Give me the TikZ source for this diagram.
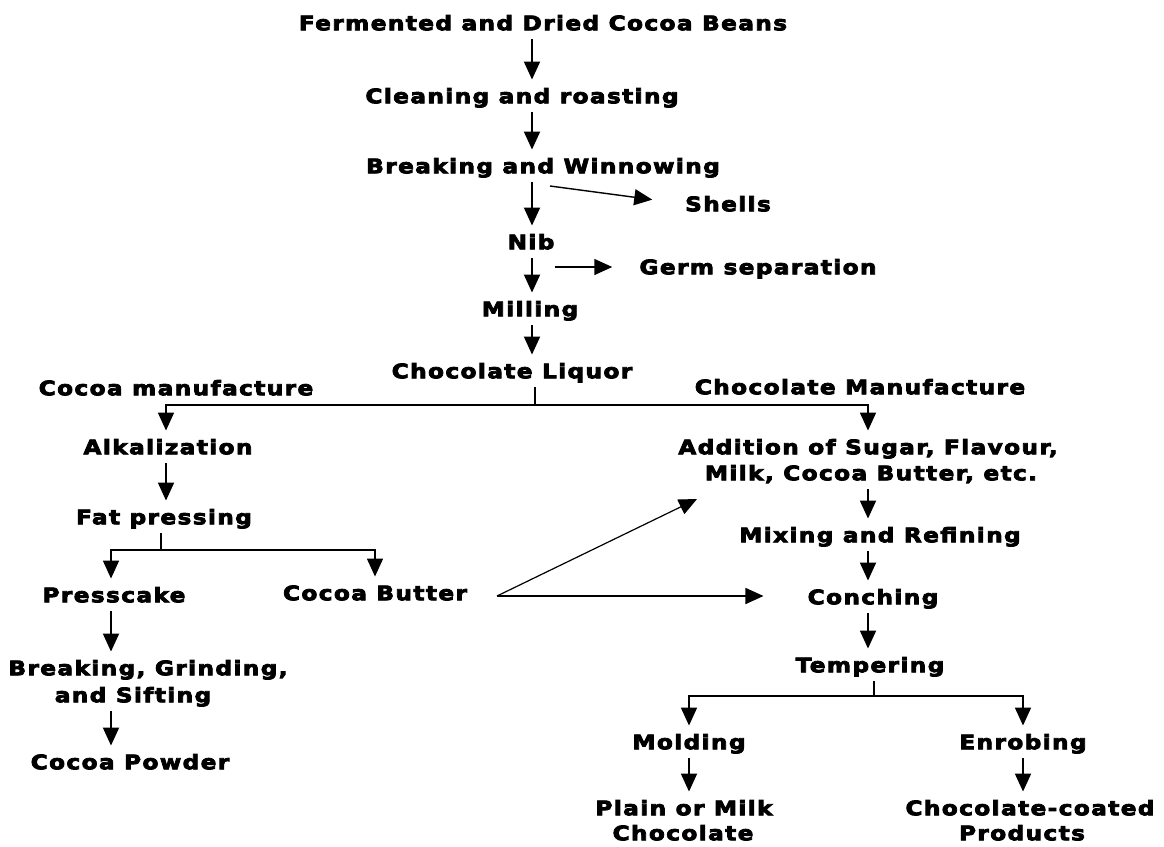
\documentclass[tikz,border=0pt]{standalone}
\usepackage{fontspec}
\newfontfamily\flowfont{DejaVu Sans Bold}[FakeStretch=1.16,LetterSpace=7,FakeBold=4]
\usetikzlibrary{arrows.meta}
\begin{document}
\begin{tikzpicture}[x=1pt,y=-1pt,
  lbl/.style={font=\flowfont\fontsize{20}{27}\selectfont, inner sep=0pt, text height=14.5pt, text depth=0pt},
  arr/.style={line width=1.9pt, -{Triangle[width=16pt,length=18pt]}, shorten <=9pt, shorten >=9pt},
  ln/.style={line width=1.7pt}]
\useasboundingbox[fill=white] (0,0) rectangle (1164,846);
% nodes
\node[lbl] (ferm) at (543,23) {Fermented and Dried Cocoa Beans};
\node[lbl] (clean) at (522,96) {Cleaning and roasting};
\node[lbl] (brk) at (543,166) {Breaking and Winnowing};
\node[lbl] (shells) at (728,204) {Shells};
\node[lbl] (nib) at (531,242) {Nib};
\node[lbl] (germ) at (758,267) {Germ separation};
\node[lbl] (mill) at (530,309) {Milling};
\node[lbl] (liq) at (512,371) {Chocolate Liquor};
\node[lbl] (cman) at (176,388) {Cocoa manufacture};
\node[lbl] (chman) at (860,387) {Chocolate Manufacture};
\node[lbl] (alk) at (168,447) {Alkalization};
\node[lbl] (fat) at (164,517) {Fat pressing};
\node[lbl] (press) at (114,595) {Presscake};
\node[lbl] (butter) at (375,593) {Cocoa Butter};
\node[lbl] (bg1) at (148,668) {Breaking, Grinding,};
\node[lbl] (bg2) at (133,695) {and Sifting};
\node[lbl] (powder) at (130,762) {Cocoa Powder};
\node[lbl] (add1) at (868,447) {Addition of Sugar, Flavour,};
\node[lbl] (add2) at (871,473) {Milk, Cocoa Butter, etc.};
\node[lbl] (mix) at (880,535) {Mixing and Refining};
\node[lbl] (conch) at (873,597) {Conching};
\node[lbl] (temp) at (870,665) {Tempering};
\node[lbl] (mold) at (689,742) {Molding};
\node[lbl] (enrob) at (1023,742) {Enrobing};
\node[lbl] (plain1) at (684,808) {Plain or Milk};
\node[lbl] (plain2) at (683,833) {Chocolate};
\node[lbl] (coat1) at (1030,808) {Chocolate-coated};
\node[lbl] (coat2) at (1022,833) {Products};
% helper coordinates
\coordinate (colC) at (532,0);
\coordinate (colA) at (166,0);
\coordinate (colL) at (111,0);
\coordinate (colR) at (868,0);
\coordinate (j1) at (535,405);
\coordinate (j2) at (161,550);
\coordinate (j3) at (874,696);
\coordinate (shs) at (550,186);
\coordinate (cbx) at (497,596);
\coordinate (cbt) at (697,499);
% main column
\draw[arr] (ferm.south -| colC) -- (clean.north -| colC);
\draw[arr] (clean.south -| colC) -- (brk.north -| colC);
\draw[arr] (brk.south -| colC) -- (nib.north -| colC);
\draw[arr] (nib.south -| colC) -- (mill.north -| colC);
\draw[arr] (mill.south -| colC) -- (liq.north -| colC);
\draw[arr, line width=1.4pt, shorten <=0pt, shorten >=33pt] (shs) -- (shells.west);
\draw[arr, line width=1.5pt, shorten <=0pt, shorten >=27pt] (nib.east |- germ.west) -- (germ.west);
% split
\draw[ln, shorten <=9pt] (liq.south -| j1) -- (j1);
\draw[arr, line width=1.7pt, shorten <=0pt] (j1) -| (alk.north -| colA);
\draw[arr, line width=1.7pt, shorten <=0pt] (j1) -| (add1.north -| colR);
% cocoa branch
\draw[arr] (alk.south -| colA) -- (fat.north -| colA);
\draw[ln, shorten <=9pt] (fat.south -| j2) -- (j2);
\draw[arr, line width=1.7pt, shorten <=0pt] (j2) -| (press.north -| colL);
\draw[arr, line width=1.7pt, shorten <=0pt] (j2) -| (butter.north);
\draw[arr] (press.south -| colL) -- (bg1.north -| colL);
\draw[arr] (bg2.south -| colL) -- (powder.north -| colL);
% cocoa butter transfers
\draw[arr, line width=1.2pt, shorten <=0pt, shorten >=0pt] (cbx) -- (cbt);
\draw[arr, line width=1.5pt, shorten <=0pt, shorten >=44pt] (cbx) -- (cbx -| conch.west);
% chocolate branch
\draw[arr] (add2.south -| colR) -- (mix.north -| colR);
\draw[arr] (mix.south -| colR) -- (conch.north -| colR);
\draw[arr] (conch.south -| colR) -- (temp.north -| colR);
\draw[ln, shorten <=9pt] (temp.south -| j3) -- (j3);
\draw[arr, line width=1.7pt, shorten <=0pt] (j3) -| (mold.north);
\draw[arr, line width=1.7pt, shorten <=0pt] (j3) -| (enrob.north);
\draw[arr] (mold.south) -- (plain1.north -| mold.south);
\draw[arr] (enrob.south) -- (coat1.north -| enrob.south);
\end{tikzpicture}
\end{document}
